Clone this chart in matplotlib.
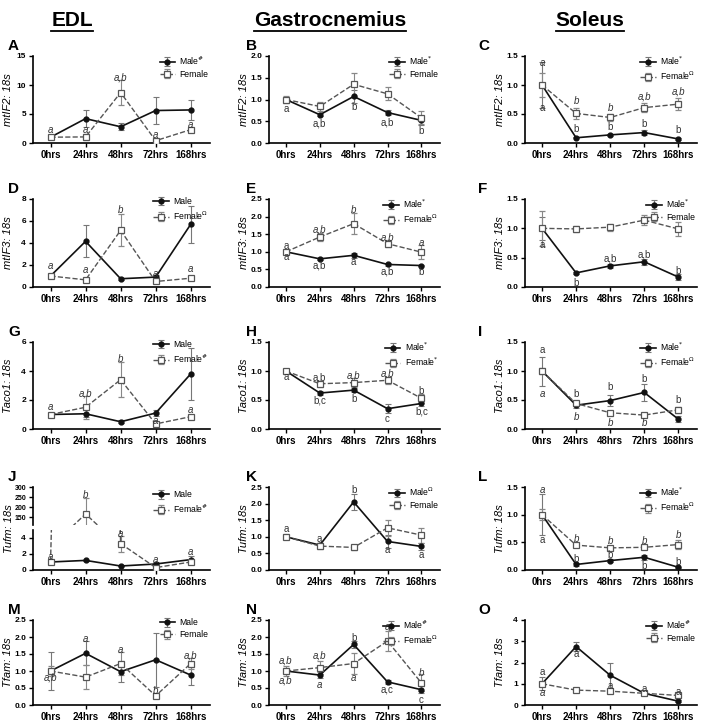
import matplotlib
matplotlib.use('Agg')
import matplotlib.pyplot as plt
from matplotlib.lines import Line2D
import numpy as np

plt.rcParams['font.family'] = ['Liberation Sans', 'DejaVu Sans']
plt.rcParams['mathtext.fontset'] = 'dejavusans'

times = ['0hrs', '24hrs', '48hrs', '72hrs', '168hrs']

# ---- data ----
A_male = [1.0, 4.2, 2.8, 5.6, 5.7];      A_male_err = [0.1, 1.5, 0.6, 2.3, 1.8]
A_fem = [1.0, 1.05, 8.7, 0.4, 2.3];      A_fem_err = [0.1, 0.5, 2.1, 0.2, 0.3]
B_male = [1.0, 0.65, 1.07, 0.70, 0.52];  B_male_err = [0.05, 0.03, 0.15, 0.06, 0.1]
B_fem = [1.0, 0.84, 1.35, 1.13, 0.58];   B_fem_err = [0.08, 0.1, 0.27, 0.15, 0.15]
C_male = [1.0, 0.09, 0.14, 0.18, 0.07];  C_male_err = [0.4, 0.01, 0.02, 0.04, 0.01]
C_fem = [1.0, 0.51, 0.44, 0.61, 0.67];   C_fem_err = [0.2, 0.1, 0.06, 0.08, 0.1]
D_male = [1.0, 4.15, 0.75, 0.9, 5.7];    D_male_err = [0.1, 1.45, 0.1, 0.2, 1.7]
D_fem = [1.0, 0.65, 5.15, 0.5, 0.8];     D_fem_err = [0.1, 0.1, 1.45, 0.1, 0.1]
E_male = [1.0, 0.8, 0.9, 0.64, 0.61];    E_male_err = [0.03, 0.03, 0.08, 0.03, 0.02]
E_fem = [1.0, 1.42, 1.8, 1.23, 0.99];    E_fem_err = [0.05, 0.12, 0.3, 0.1, 0.2]
F_male = [1.0, 0.24, 0.36, 0.43, 0.17];  F_male_err = [0.2, 0.02, 0.03, 0.05, 0.05]
F_fem = [1.0, 0.99, 1.02, 1.14, 0.99];   F_fem_err = [0.3, 0.05, 0.06, 0.08, 0.12]
G_male = [1.0, 1.05, 0.5, 1.1, 3.8];     G_male_err = [0.1, 0.25, 0.1, 0.2, 1.8]
G_fem = [1.0, 1.5, 3.4, 0.35, 0.85];     G_fem_err = [0.1, 0.8, 1.2, 0.1, 0.1]
H_male = [1.0, 0.62, 0.67, 0.35, 0.44];  H_male_err = [0.03, 0.03, 0.03, 0.08, 0.05]
H_fem = [1.0, 0.78, 0.80, 0.84, 0.53];   H_fem_err = [0.03, 0.05, 0.08, 0.06, 0.08]
I_male = [1.0, 0.41, 0.49, 0.63, 0.17];  I_male_err = [0.25, 0.05, 0.09, 0.15, 0.05]
I_fem = [1.0, 0.44, 0.28, 0.24, 0.33];   I_fem_err = [0.05, 0.05, 0.03, 0.03, 0.05]
J_male = [1.0, 1.2, 0.5, 0.75, 1.3];     J_male_err = [0.1, 0.1, 0.05, 0.2, 0.5]
J_fem = [1.0, 165.0, 3.3, 0.3, 1.0];     J_fem_err = [0.1, 80.0, 1.0, 0.1, 0.2]
K_male = [1.0, 0.75, 2.05, 0.86, 0.71];  K_male_err = [0.07, 0.05, 0.25, 0.2, 0.1]
K_fem = [1.0, 0.72, 0.68, 1.27, 1.05];   K_fem_err = [0.05, 0.08, 0.08, 0.25, 0.23]
L_male = [1.0, 0.1, 0.17, 0.23, 0.05];   L_male_err = [0.37, 0.02, 0.03, 0.05, 0.01]
L_fem = [1.0, 0.45, 0.40, 0.41, 0.46];   L_fem_err = [0.1, 0.03, 0.03, 0.03, 0.08]
M_male = [1.0, 1.52, 0.98, 1.33, 0.88];  M_male_err = [0.55, 0.35, 0.3, 0.8, 0.3]
M_fem = [1.0, 0.82, 1.22, 0.27, 1.22];   M_fem_err = [0.15, 0.35, 0.35, 0.05, 0.15]
N_male = [1.0, 0.88, 1.78, 0.68, 0.45];  N_male_err = [0.1, 0.1, 0.1, 0.05, 0.1]
N_fem = [1.0, 1.1, 1.22, 1.88, 0.65];    N_fem_err = [0.15, 0.2, 0.3, 0.3, 0.25]
O_male = [1.0, 2.75, 1.4, 0.55, 0.18];   O_male_err = [0.3, 0.2, 0.6, 0.1, 0.05]
O_fem = [1.0, 0.7, 0.65, 0.55, 0.45];    O_fem_err = [0.1, 0.08, 0.1, 0.05, 0.1]

ylabels = ['mtIF2: 18s', 'mtIF3: 18s', 'Taco1: 18s', 'Tufm: 18s', 'Tfam: 18s']
col_titles = ['EDL', 'Gastrocnemius', 'Soleus']
letters = list('ABCDEFGHIJKLMNO')

legend_male = ['Male$^{\\#}$', 'Male$^{*}$', 'Male$^{*}$',
               'Male', 'Male$^{*}$', 'Male$^{*}$',
               'Male', 'Male$^{*}$', 'Male$^{*}$',
               'Male', 'Male$^{\\Omega}$', 'Male$^{*}$',
               'Male', 'Male$^{\\#}$', 'Male$^{\\#}$']
legend_fem = ['Female', 'Female', 'Female$^{\\Omega}$',
              'Female$^{\\Omega}$', 'Female$^{\\Omega}$', 'Female',
              'Female$^{\\#}$', 'Female$^{*}$', 'Female$^{\\Omega}$',
              'Female$^{\\#}$', 'Female', 'Female$^{\\Omega}$',
              'Female', 'Female$^{\\Omega}$', 'Female']

ylims = [(0, 15), (0, 2.0), (0, 1.5),
         (0, 8), (0, 2.5), (0, 1.5),
         (0, 6), (0, 1.5), (0, 1.5),
         (0, 5), (0, 2.5), (0, 1.5),
         (0, 2.5), (0, 2.5), (0, 4)]
yticks = [[0, 5, 10, 15], [0, 0.5, 1.0, 1.5, 2.0], [0, 0.5, 1.0, 1.5],
          [0, 2, 4, 6, 8], [0, 0.5, 1.0, 1.5, 2.0, 2.5], [0, 0.5, 1.0, 1.5],
          [0, 2, 4, 6], [0, 0.5, 1.0, 1.5], [0, 0.5, 1.0, 1.5],
          [0, 2, 4], [0, 0.5, 1.0, 1.5, 2.0, 2.5], [0, 0.5, 1.0, 1.5],
          [0, 0.5, 1.0, 1.5, 2.0, 2.5], [0, 0.5, 1.0, 1.5, 2.0, 2.5], [0, 1, 2, 3, 4]]
yfmt = ['%d', '%.1f', '%.1f', '%d', '%.1f', '%.1f', '%d', '%.1f', '%.1f',
        '%d', '%.1f', '%.1f', '%.1f', '%.1f', '%d']

# significance letters: (time index, y, text, italic)
annots = [
    [(0, 2.3, 'a', 1), (1, 2.3, 'a', 1), (2, 11.3, 'a,b', 1), (3, 1.4, 'a', 1), (4, 3.1, 'a', 1)],
    [(0, 0.78, 'a', 0), (1, 0.44, 'a,b', 0), (2, 0.82, 'b', 0), (3, 0.48, 'a,b', 0), (4, 0.28, 'b', 0)],
    [(0, 1.38, 'a', 1), (0, 0.6, 'a', 0), (1, 0.72, 'b', 1), (2, 0.6, 'b', 1), (3, 0.8, 'a,b', 1),
     (4, 0.88, 'a,b', 1), (1, 0.24, 'b', 0), (2, 0.28, 'b', 0), (3, 0.33, 'b', 0), (4, 0.22, 'b', 0)],
    [(0, 1.9, 'a', 1), (1, 1.5, 'a', 1), (2, 7.0, 'b', 1), (3, 1.2, 'a', 1), (4, 1.6, 'a', 1)],
    [(0, 1.17, 'a', 0), (0, 0.86, 'a', 0), (1, 1.62, 'a,b', 1), (2, 2.2, 'b', 1), (3, 1.4, 'a,b', 1),
     (4, 1.25, 'a', 1), (1, 0.6, 'a,b', 0), (2, 0.72, 'a', 0), (3, 0.45, 'a,b', 0), (4, 0.42, 'b', 0)],
    [(0, 0.72, 'a', 0), (1, 0.07, 'b', 0), (2, 0.48, 'a,b', 0), (3, 0.55, 'a,b', 0), (4, 0.27, 'b', 0)],
    [(0, 1.5, 'a', 1), (1, 2.45, 'a,b', 1), (2, 4.85, 'b', 1), (3, 0.55, 'a', 1), (4, 1.3, 'a', 1)],
    [(0, 0.9, 'a', 0), (1, 0.88, 'a,b', 0), (2, 0.93, 'a,b', 1), (3, 0.96, 'a,b', 1), (4, 0.66, 'b', 0),
     (1, 0.49, 'b,c', 0), (2, 0.52, 'b', 0), (3, 0.18, 'c', 0), (4, 0.3, 'b,c', 0)],
    [(0, 1.36, 'a', 0), (0, 0.6, 'a', 1), (1, 0.6, 'b', 0), (2, 0.72, 'b', 0), (3, 0.86, 'b', 0),
     (4, 0.5, 'b', 0), (1, 0.2, 'b', 1), (2, 0.11, 'b', 1), (3, 0.1, 'b', 1)],
    [(0, 1.6, 'a', 1), (1, 260, 'b', 1), (2, 4.5, 'a', 1), (3, 1.2, 'a', 1), (4, 2.3, 'a', 1)],
    [(0, 1.22, 'a', 0), (1, 0.94, 'a', 0), (2, 2.4, 'b', 0), (3, 0.6, 'a', 0), (4, 0.45, 'a', 0)],
    [(0, 1.45, 'a', 1), (0, 0.55, 'a', 0), (1, 0.56, 'b', 1), (2, 0.53, 'b', 1), (3, 0.53, 'b', 1),
     (4, 0.63, 'b', 1), (1, 0.2, 'b', 0), (2, 0.27, 'b', 0), (3, 0.08, 'b', 0), (4, 0.14, 'b', 0)],
    [(0, 0.82, 'a,b', 1), (1, 1.95, 'a', 1), (2, 1.62, 'a', 1), (3, 0.42, 'b', 1), (4, 1.45, 'a,b', 1)],
    [(0, 1.3, 'a,b', 1), (0, 0.72, 'a,b', 1), (1, 1.45, 'a,b', 1), (1, 0.6, 'a', 1), (2, 1.98, 'b', 0),
     (2, 0.8, 'a', 1), (3, 2.3, 'a', 1), (3, 0.45, 'a,c', 0), (4, 0.95, 'b', 1), (4, 0.15, 'c', 0)],
    [(0, 1.55, 'a', 0), (0, 0.55, 'a', 1), (1, 2.4, 'a', 0), (2, 0.9, 'a', 0), (3, 0.75, 'a', 0),
     (4, 0.6, 'a', 0)],
]

male = [A_male, B_male, C_male, D_male, E_male, F_male, G_male, H_male, I_male,
        J_male, K_male, L_male, M_male, N_male, O_male]
male_err = [A_male_err, B_male_err, C_male_err, D_male_err, E_male_err, F_male_err,
            G_male_err, H_male_err, I_male_err, J_male_err, K_male_err, L_male_err,
            M_male_err, N_male_err, O_male_err]
fem = [A_fem, B_fem, C_fem, D_fem, E_fem, F_fem, G_fem, H_fem, I_fem,
       J_fem, K_fem, L_fem, M_fem, N_fem, O_fem]
fem_err = [A_fem_err, B_fem_err, C_fem_err, D_fem_err, E_fem_err, F_fem_err,
           G_fem_err, H_fem_err, I_fem_err, J_fem_err, K_fem_err, L_fem_err,
           M_fem_err, N_fem_err, O_fem_err]

# ---- layout ----
W, H = 709, 728
fig = plt.figure(figsize=(W / 100, H / 100), dpi=100)
fig.patch.set_facecolor('white')


def rect(l, t, r, b):
    return [l / W, 1 - b / H, (r - l) / W, (b - t) / H]


cols = [(33, 210), (269, 440), (525, 697)]
rows = [(56, 143), (199, 287), (342, 429), (487, 570), (620, 705)]
letter_x = [8, 246, 478]
title_x = [72, 330, 590]

x = np.arange(len(times))
MCOL = '#111111'
FCOL = '#555555'
ACOL = '#333333'


def style_axis(ax):
    for s in ['top', 'right']:
        ax.spines[s].set_visible(False)
    for s in ['left', 'bottom']:
        ax.spines[s].set_linewidth(1.2)
    ax.tick_params(axis='both', direction='out', length=3, width=1.0, pad=2)
    ax.tick_params(axis='y', labelsize=6)
    ax.tick_params(axis='x', labelsize=7)
    for lab in ax.get_xticklabels() + ax.get_yticklabels():
        lab.set_fontweight('bold')
    ax.set_xlim(-0.5, 4.55)


def draw_series(ax, i):
    ax.errorbar(x, male[i], yerr=male_err[i], color=MCOL, lw=1.2, marker='o', ms=3.5,
                mfc=MCOL, mec=MCOL, ecolor='#777777', elinewidth=0.8, capsize=2,
                capthick=0.8, label=legend_male[i], zorder=3)
    ax.errorbar(x, fem[i], yerr=fem_err[i], color=FCOL, lw=1.0, ls='--', marker='s', ms=4,
                mfc='white', mec=FCOL, mew=0.9, ecolor='#888888', elinewidth=0.8, capsize=2,
                capthick=0.8, label=legend_fem[i], zorder=3)


def add_legend(ax, yanchor):
    ax.legend(loc='upper right', bbox_to_anchor=(1.02, yanchor), fontsize=6.2,
              frameon=False, handlelength=1.8, borderaxespad=0.2, labelspacing=0.35,
              handletextpad=0.5)


for i in range(15):
    r, c = divmod(i, 3)
    l, rr = cols[c]
    t, b = rows[r]
    if i == 9:
        # broken axis panel (J)
        axu = fig.add_axes(rect(l, t, rr, t + 38))
        axl = fig.add_axes(rect(l, t + 43, rr, b))
        draw_series(axu, i)
        draw_series(axl, i)
        axu.set_ylim(110, 300)
        axu.set_yticks([150, 200, 250, 300])
        axu.set_yticklabels(['150', '200', '250', '300'])
        axu.set_xticks([])
        axl.set_ylim(0, 5)
        axl.set_yticks([0, 2, 4])
        axl.set_yticklabels(['0', '2', '4'])
        axl.set_xticks(x)
        axl.set_xticklabels(times)
        style_axis(axu)
        style_axis(axl)
        axu.tick_params(axis='y', labelsize=5)
        axu.spines['bottom'].set_visible(False)
        axu.tick_params(axis='x', length=0)
        for a in annots[i]:
            tgt = axu if a[1] > 5 else axl
            tgt.text(a[0], a[1], a[2], ha='center', va='center', fontsize=7, color=ACOL,
                     style='italic' if a[3] else 'normal', zorder=4)
        add_legend(axu, 1.05)
        fig.text(9 / W, 1 - (t + b) / 2 / H, ylabels[r], rotation=90, ha='center',
                 va='center', fontsize=8, style='italic')
    else:
        ax = fig.add_axes(rect(l, t, rr, b))
        draw_series(ax, i)
        ax.set_ylim(*ylims[i])
        ax.set_yticks(yticks[i])
        ax.set_yticklabels([yfmt[i] % v for v in yticks[i]])
        ax.set_xticks(x)
        ax.set_xticklabels(times)
        style_axis(ax)
        for a in annots[i]:
            ax.text(a[0], a[1], a[2], ha='center', va='center', fontsize=7, color=ACOL,
                    style='italic' if a[3] else 'normal', zorder=4)
        add_legend(ax, 1.08)
        fig.text((l - 25) / W, 1 - (t + b) / 2 / H, ylabels[r], rotation=90, ha='center',
                 va='center', fontsize=8, style='italic')
    fig.text(letter_x[c] / W, 1 - (t - 10) / H, letters[i], fontsize=11, fontweight='bold',
             ha='left', va='center')

for c in range(3):
    tx = fig.text(title_x[c] / W, 1 - 20 / H, col_titles[c], fontsize=15, fontweight='bold',
                  ha='center', va='center')
    fig.canvas.draw()
    bb = tx.get_window_extent()
    fig.add_artist(Line2D([bb.x0 / W, bb.x1 / W], [(bb.y0 - 1) / H, (bb.y0 - 1) / H],
                          color='black', lw=1.3, transform=fig.transFigure))

fig.savefig('out.png', dpi=100, facecolor='white')
